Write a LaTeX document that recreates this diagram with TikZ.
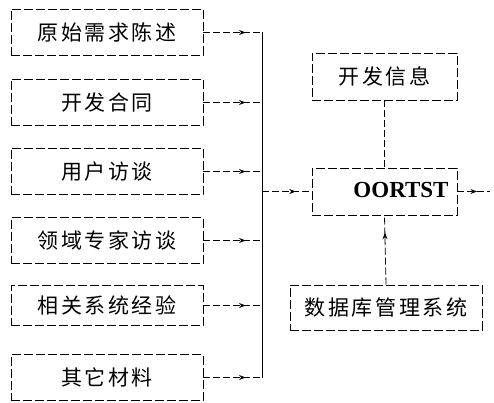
\documentclass[tikz,border=0pt]{standalone}
\usepackage{fontspec}
\setmainfont{Liberation Serif}
\newfontfamily\cjk[LetterSpace=12]{Noto Sans CJK SC}
\usetikzlibrary{arrows.meta,decorations.markings}
\tikzset{
  box/.style={draw=black, line width=0.8pt, dash pattern=on 9pt off 3pt, minimum height=46pt, inner sep=0pt, font=\cjk\fontsize{21}{24}\selectfont},
  lbox/.style={box, minimum width=192pt},
  conn/.style={draw=black, line width=0.8pt, dash pattern=on 7pt off 3pt},
  bus/.style={draw=black, line width=0.9pt},
  midarr/.style={postaction={decorate}, decoration={markings, mark=at position #1 with {\arrow{Stealth[length=6.5pt,width=5pt]}}}}
}
\begin{document}
\begin{tikzpicture}[x=1pt,y=-1pt]
\useasboundingbox (0,0) rectangle (494,403);
\node[lbox] (n1) at (107,32.5) {原始需求陈述};
\node[lbox] (n2) at (107,102.5) {开发合同};
\node[lbox] (n3) at (107,171.5) {用户访谈};
\node[lbox] (n4) at (107,240.5) {领域专家访谈};
\node[lbox, minimum height=40pt] (n5) at (107,305.5) {相关系统经验};
\node[lbox] (n6) at (107,377.5) {其它材料};
\node[box, minimum width=145pt, minimum height=47pt] (dev) at (384.5,76.5) {开发信息};
\node[box, minimum width=145pt, minimum height=47pt] (oort) at (384.5,191.5) {};
\node[font=\bfseries\fontsize{23}{25}\selectfont] (oortt) at (401,190) {OORTST};
\node[box, minimum width=192pt, minimum height=45pt] (db) at (386,307.5) {数据库管理系统};
\coordinate (bus) at (262,0);
\coordinate (out) at (490,191.5);
\foreach \n in {n1,n2,n3,n4,n5,n6}{
  \draw[conn, midarr=0.72] (\n.east) -- (\n.east -| bus);
}
\draw[bus] (n1.east -| bus) -- (n6.east -| bus);
\draw[conn, midarr=0.68] (oort.west -| bus) -- (oort.west);
\draw[conn] (dev.south) -- (oort.north);
\draw[conn, midarr=0.75] (db.north) -- (oort.south);
\draw[conn, midarr=0.6] (oort.east) -- (out);
\end{tikzpicture}
\end{document}
